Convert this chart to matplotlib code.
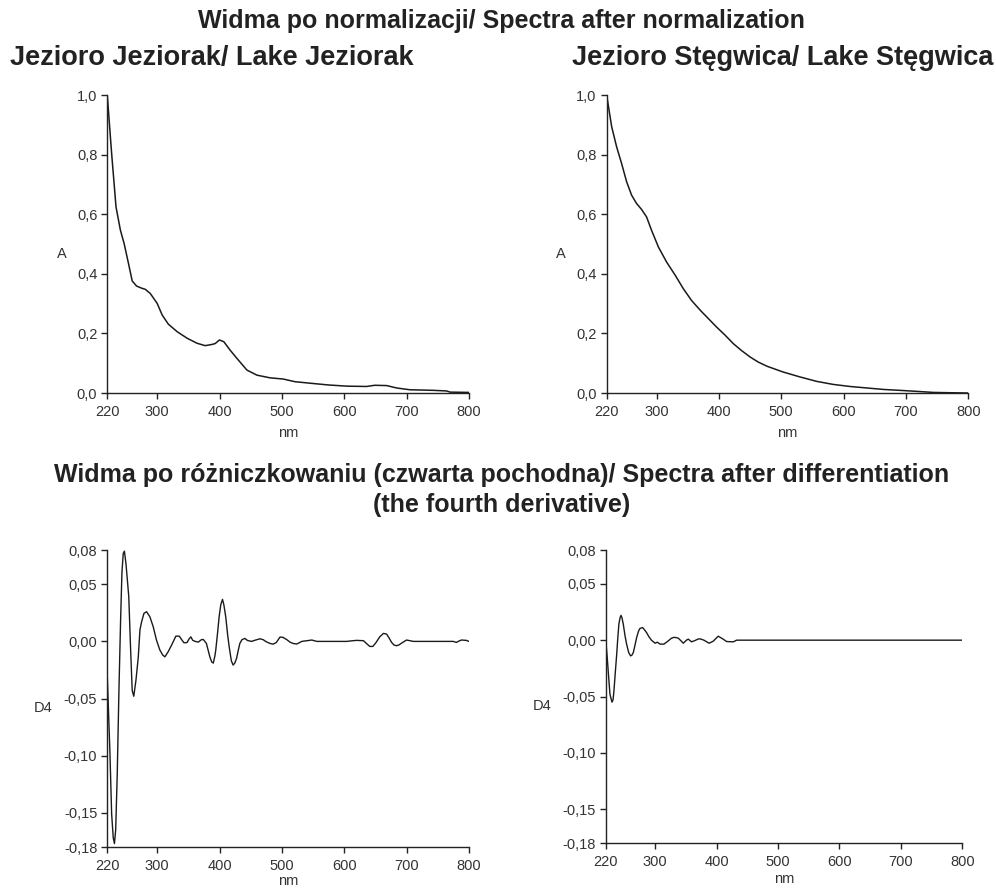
import matplotlib
matplotlib.use("Agg")
import matplotlib.pyplot as plt

plt.rcParams["font.family"] = ["Liberation Sans", "DejaVu Sans"]

# widma po normalizacji
nm_jez = [220, 227, 234, 241, 247, 254, 260, 267, 275, 281, 289, 300, 308, 318,
          332, 348, 364, 377, 388, 393, 400, 407, 417, 428, 444, 460, 481, 502,
          521, 545, 575, 605, 636, 649, 668, 684, 705, 743, 764, 770, 800]
a_jez = [1.0, 0.804, 0.625, 0.547, 0.502, 0.435, 0.376, 0.359, 0.352, 0.348,
         0.334, 0.301, 0.262, 0.231, 0.206, 0.184, 0.167, 0.159, 0.163, 0.166,
         0.178, 0.172, 0.144, 0.116, 0.077, 0.060, 0.051, 0.047, 0.038, 0.033,
         0.027, 0.023, 0.022, 0.026, 0.025, 0.017, 0.011, 0.009, 0.007, 0.003,
         0.002]

nm_steg = [220, 228, 236, 244, 252, 260, 268, 276, 284, 292, 303, 316, 330, 343,
           356, 370, 383, 396, 410, 423, 436, 450, 463, 477, 503, 530, 557, 583,
           610, 637, 664, 690, 717, 744, 770, 800]
a_steg = [1.0, 0.894, 0.826, 0.770, 0.709, 0.664, 0.636, 0.616, 0.591, 0.546,
          0.490, 0.440, 0.395, 0.350, 0.311, 0.278, 0.250, 0.222, 0.194, 0.166,
          0.143, 0.121, 0.104, 0.090, 0.0705, 0.054, 0.039, 0.029, 0.022, 0.017,
          0.012, 0.009, 0.0056, 0.002, 0.001, 0.0]

# czwarta pochodna (D4)
nm_d4_jez = [220, 224.3, 227, 229.6, 231.5, 233.5, 236, 238.7, 241.4, 243.5,
             245.6, 247.5, 250, 252.5, 254.5, 257.5, 260, 262.5, 266, 269.7,
             272.4, 275, 278.8, 283, 288.4, 293.7, 299, 304.4, 309, 312.4, 317.7,
             323.2, 330, 335.5, 340, 343, 348, 351, 354, 357, 361, 366, 371, 374,
             379, 384.5, 387.5, 390, 392.5, 394, 397, 399.4, 402, 404.8, 407, 410,
             413, 415.5, 419, 421.8, 424.5, 427.3, 430, 432.6, 436, 440.6, 445,
             451.3, 458, 465, 470, 475, 481, 486, 491, 497, 502, 508, 513, 518,
             524, 532, 540, 548, 556, 604, 612, 620, 631, 636, 641, 646, 651, 657,
             663, 668, 672, 676, 680, 684, 688, 692, 700, 711, 775, 780, 784, 788,
             796, 800]
d4_jez = [-0.030, -0.098, -0.151, -0.172, -0.177, -0.165, -0.116, -0.043, 0.019,
          0.060, 0.077, 0.079, 0.068, 0.052, 0.039, -0.008, -0.043, -0.048,
          -0.034, -0.014, 0.010, 0.017, 0.0245, 0.026, 0.0215, 0.0128, 0.001,
          -0.0076, -0.012, -0.0135, -0.009, -0.0032, 0.0046, 0.0046, 0.001,
          -0.0012, -0.001, 0.002, 0.004, 0.001, 0.0, -0.0006, 0.0015, 0.0017,
          -0.0018, -0.0135, -0.018, -0.019, -0.013, -0.0076, 0.008, 0.0215, 0.032,
          0.0368, 0.032, 0.0215, 0.006, -0.0047, -0.017, -0.0207, -0.019, -0.015,
          -0.008, -0.0018, 0.0015, 0.0026, 0.0008, 0.0, 0.0012, 0.0023, 0.0015,
          -0.0003, -0.0018, -0.0024, -0.001, 0.0038, 0.0035, 0.0015, -0.0006,
          -0.0018, -0.0023, 0.0, 0.0006, 0.0012, 0.0, 0.0, 0.0005, 0.0009, 0.0006,
          -0.002, -0.0044, -0.0044, -0.001, 0.004, 0.007, 0.0064, 0.003, -0.0009,
          -0.0032, -0.0038, -0.003, -0.0015, 0.0012, 0.0, 0.0, -0.0009, 0.0003,
          0.0012, 0.0009, 0.0]

nm_d4_steg = [220, 222, 224, 226.5, 229.8, 231.5, 233, 235, 237.5, 239, 241, 243,
              244.4, 246, 248.2, 251, 253.6, 257, 260, 262, 264.5, 267, 270, 273,
              275.3, 279.7, 283, 286, 290, 294, 300, 303.6, 308, 314.4, 321.5, 326,
              329.6, 333, 337.7, 342, 345.9, 351, 354, 359.5, 365, 370, 373, 379.5,
              384, 388, 394.7, 399, 402.8, 406, 409.9, 416.4, 427.3, 432.7, 800]
d4_steg = [-0.002, -0.015, -0.030, -0.048, -0.055, -0.053, -0.045, -0.030,
           -0.0124, 0.0, 0.0142, 0.020, 0.022, 0.020, 0.0142, 0.004, -0.0035,
           -0.011, -0.0139, -0.0135, -0.011, -0.005, 0.0024, 0.008, 0.0104, 0.0112,
           0.009, 0.0068, 0.003, 0.0, -0.0027, -0.0018, -0.0035, -0.0035, -0.0006,
           0.0015, 0.0024, 0.0024, 0.0018, -0.0005, -0.0027, 0.0, 0.0009, -0.0015,
           -0.0003, 0.001, 0.0012, 0.0, -0.0015, -0.0027, -0.0009, 0.0015, 0.0035,
           0.0025, 0.0012, -0.0012, -0.0015, 0.0, 0.0]

x_ticks = [220, 300, 400, 500, 600, 700, 800]
a_ticks = [0.0, 0.2, 0.4, 0.6, 0.8, 1.0]
a_labels = ["0,0", "0,2", "0,4", "0,6", "0,8", "1,0"]
d4_ticks = [-0.18, -0.15, -0.10, -0.05, 0.00, 0.05, 0.08]
d4_labels = ["-0,18", "-0,15", "-0,10", "-0,05", "0,00", "0,05", "0,08"]

TXT = "#333333"
DARK = "#222222"
LINE = "#1a1a1a"


def style_axes(ax, yticks, ylabels, ymin, ymax, ylabel, ylab_xy, xlab_y):
    ax.set_xlim(220, 800)
    ax.set_ylim(ymin, ymax)
    ax.set_xticks(x_ticks)
    ax.set_xticklabels([str(t) for t in x_ticks])
    ax.set_yticks(yticks)
    ax.set_yticklabels(ylabels)
    for s in ["top", "right"]:
        ax.spines[s].set_visible(False)
    for s in ["left", "bottom"]:
        ax.spines[s].set_linewidth(1.0)
        ax.spines[s].set_color(DARK)
    ax.tick_params(direction="out", length=4, width=1.0, color=DARK,
                   labelsize=10.5, labelcolor=TXT)
    ax.tick_params(axis="x", pad=4.6)
    ax.tick_params(axis="y", pad=3.2)
    ax.set_xlabel("nm", fontsize=10.5, color=TXT, va="baseline")
    ax.xaxis.set_label_coords(0.5, xlab_y)
    ax.set_ylabel(ylabel, fontsize=10.5, color=TXT, rotation=0,
                  ha="center", va="center")
    ax.yaxis.set_label_coords(*ylab_xy)


def main():
    fig = plt.figure(figsize=(9.96, 8.9), dpi=100)

    ax1 = fig.add_axes([0.1077, 0.5584, 0.3631, 0.3348])
    ax2 = fig.add_axes([0.6091, 0.5584, 0.3631, 0.3348])
    ax3 = fig.add_axes([0.1077, 0.0483, 0.3631, 0.3337])
    ax4 = fig.add_axes([0.6084, 0.0528, 0.3577, 0.3292])

    ax1.plot(nm_jez, a_jez, color=LINE, lw=1.1)
    ax2.plot(nm_steg, a_steg, color=LINE, lw=1.1)
    ax3.plot(nm_d4_jez, d4_jez, color=LINE, lw=1.0)
    ax4.plot(nm_d4_steg, d4_steg, color=LINE, lw=1.0)

    style_axes(ax1, a_ticks, a_labels, 0, 1.0, "A", (-0.126, 0.466), -0.148)
    style_axes(ax2, a_ticks, a_labels, 0, 1.0, "A", (-0.126, 0.466), -0.148)
    style_axes(ax3, d4_ticks, d4_labels, -0.18, 0.08, "D4", (-0.178, 0.468), -0.128)
    style_axes(ax4, d4_ticks, d4_labels, -0.18, 0.08, "D4", (-0.180, 0.468), -0.136)

    fig.text(0.5035, 0.9682, "Widma po normalizacji/ Spectra after normalization",
             ha="center", va="baseline", fontsize=18, fontweight="bold", color=DARK)
    fig.text(0.010, 0.9270, "Jezioro Jeziorak/ Lake Jeziorak",
             ha="left", va="baseline", fontsize=19.5, fontweight="bold", color=DARK)
    fig.text(0.574, 0.9270, "Jezioro Stęgwica/ Lake Stęgwica",
             ha="left", va="baseline", fontsize=19.5, fontweight="bold", color=DARK)
    fig.text(0.5035, 0.4584,
             "Widma po różniczkowaniu (czwarta pochodna)/ Spectra after differentiation",
             ha="center", va="baseline", fontsize=18, fontweight="bold", color=DARK)
    fig.text(0.5035, 0.4247, "(the fourth derivative)",
             ha="center", va="baseline", fontsize=18, fontweight="bold", color=DARK)

    fig.savefig("out.png", dpi=100)


if __name__ == "__main__":
    main()
